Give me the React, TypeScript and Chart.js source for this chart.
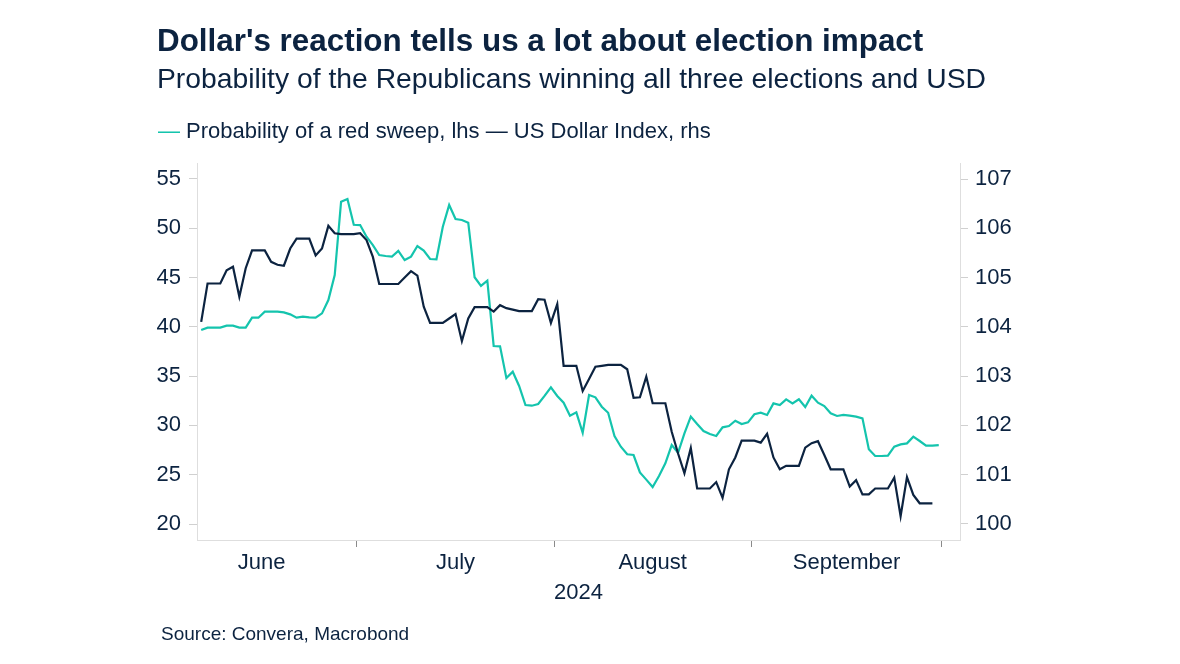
import React, { useEffect, useRef } from "react";
import { Chart, registerables } from "chart.js";

Chart.register(...registerables);

// Day index: 0 = 1 June 2024. Daily observations start on 6 June 2024.
const FIRST_DAY = 5;

// Probability of a red sweep (%), lhs — 6 Jun .. 30 Sep 2024
const redSweep = [
  39.68, 39.92, 39.92, 39.92, 40.12, 40.12, 39.92, 39.92, 40.93, 40.93,
  41.54, 41.54, 41.54, 41.47, 41.27, 40.93, 41.03, 40.97, 40.93, 41.37,
  42.72, 45.26, 52.7, 52.97, 50.36, 50.33, 49.15, 48.3, 47.29, 47.19,
  47.12, 47.7, 46.78, 47.12, 48.2, 47.73, 46.88, 46.85, 50.16, 52.36,
  50.94, 50.84, 50.57, 45.03, 44.15, 44.68, 38.06, 38.02, 34.8, 35.45,
  34.0, 32.07, 32.0, 32.17, 32.99, 33.87, 32.99, 32.31, 30.99, 31.33,
  29.26, 33.09, 32.85, 31.9, 31.29, 28.93, 27.84, 27.07, 27.0, 25.24,
  24.5, 23.75, 24.87, 26.16, 28.01, 27.23, 29.2, 30.89, 30.14, 29.43,
  29.13, 28.93, 29.81, 29.94, 30.48, 30.14, 30.31, 31.13, 31.29, 31.06,
  32.24, 32.07, 32.65, 32.24, 32.65, 31.87, 33.02, 32.31, 31.97, 31.23,
  30.96, 31.06, 30.99, 30.89, 30.72, 27.58, 26.9, 26.9, 26.93, 27.84,
  28.08, 28.18, 28.86, 28.42, 27.95, 27.95, 28.01,
];

// US Dollar Index, rhs — 6 Jun .. 29 Sep 2024
const dollarIndex = [
  104.1, 104.88, 104.88, 104.88, 105.15, 105.22, 104.61, 105.19, 105.55, 105.55,
  105.55, 105.32, 105.26, 105.24, 105.59, 105.79, 105.79, 105.79, 105.45, 105.59,
  106.05, 105.9, 105.88, 105.88, 105.88, 105.9, 105.76, 105.42, 104.87, 104.87,
  104.87, 104.87, 105.0, 105.13, 105.04, 104.41, 104.08, 104.08, 104.08, 104.17,
  104.26, 103.71, 104.17, 104.4, 104.4, 104.4, 104.31, 104.44, 104.38, 104.35,
  104.32, 104.32, 104.32, 104.56, 104.55, 104.08, 104.46, 103.21, 103.21, 103.21,
  102.7, 102.94, 103.19, 103.21, 103.23, 103.23, 103.23, 103.14, 102.56, 102.57,
  102.99, 102.45, 102.45, 102.45, 101.87, 101.43, 101.03, 101.54, 100.72, 100.72,
  100.72, 100.85, 100.53, 101.11, 101.35, 101.69, 101.69, 101.69, 101.65, 101.83,
  101.35, 101.11, 101.18, 101.18, 101.18, 101.55, 101.64, 101.68, 101.4, 101.11,
  101.11, 101.11, 100.76, 100.89, 100.6, 100.6, 100.72, 100.72, 100.72, 100.94,
  100.16, 100.95, 100.59, 100.42, 100.42, 100.42,
];

const monthNames = ["June", "July", "August", "September"];
const monthMidDays = [15, 45.5, 76.5, 107];
const monthStartDays = [30, 61, 92, 122];
const leftTicks = [20, 25, 30, 35, 40, 45, 50, 55];
const rightTicks = [100, 101, 102, 103, 104, 105, 106, 107];

const TEAL = "#14c4ad";
const NAVY = "#0c2340";
const FONT = "'Liberation Sans', Arial, Helvetica, sans-serif";

export default function App() {
  const canvasRef = useRef<HTMLCanvasElement | null>(null);

  useEffect(() => {
    if (!canvasRef.current) return;
    const toPoints = (vals: number[]) =>
      vals.map((v, i) => ({ x: FIRST_DAY + i + 0.5, y: v }));

    const chart = new Chart(canvasRef.current, {
      type: "line",
      data: {
        datasets: [
          {
            label: "US Dollar Index, rhs",
            data: toPoints(dollarIndex),
            yAxisID: "y1",
            borderColor: NAVY,
            borderWidth: 2.2,
            pointRadius: 0,
            tension: 0,
          },
          {
            label: "Probability of a red sweep, lhs",
            data: toPoints(redSweep),
            yAxisID: "y",
            borderColor: TEAL,
            borderWidth: 2.2,
            pointRadius: 0,
            tension: 0,
          },
        ],
      },
      options: {
        animation: false,
        responsive: false,
        devicePixelRatio: 1,
        layout: { padding: { top: 163, left: 0, right: 0, bottom: 0 } },
        plugins: {
          legend: { display: false },
          tooltip: { enabled: false },
        },
        scales: {
          x: {
            type: "linear",
            min: 4.84,
            max: 124.84,
            afterFit: (s: any) => {
              s.height = 124;
            },
            afterBuildTicks: (s: any) => {
              const vals = [...monthMidDays, ...monthStartDays].sort((a, b) => a - b);
              s.ticks = vals.map((v) => ({ value: v }));
            },
            ticks: {
              autoSkip: false,
              maxRotation: 0,
              minRotation: 0,
              padding: 3,
              color: NAVY,
              font: { family: FONT, size: 22 },
              callback: (v: any) => {
                const i = monthMidDays.indexOf(Number(v));
                return i >= 0 ? monthNames[i] : "";
              },
            },
            grid: {
              drawOnChartArea: false,
              drawTicks: true,
              tickLength: 7,
              tickColor: (ctx: any) =>
                ctx.tick && monthStartDays.includes(ctx.tick.value)
                  ? "#8a8a8a"
                  : "rgba(0,0,0,0)",
            },
            border: { display: true, color: "#dedede" },
            title: {
              display: true,
              text: "2024",
              color: NAVY,
              font: { family: FONT, size: 22 },
              padding: { top: 0, bottom: 58 },
            },
          },
          y: {
            position: "left",
            min: 18.377,
            max: 56.623,
            afterFit: (s: any) => {
              s.width = 197;
            },
            afterBuildTicks: (s: any) => {
              s.ticks = leftTicks.map((v) => ({ value: v }));
            },
            ticks: {
              padding: 8,
              color: NAVY,
              font: { family: FONT, size: 22 },
            },
            grid: {
              drawOnChartArea: false,
              tickLength: 8,
              tickColor: "#d0d0d0",
            },
            border: { display: true, color: "#dedede" },
          },
          y1: {
            position: "right",
            min: 99.675,
            max: 107.325,
            afterFit: (s: any) => {
              s.width = 220;
            },
            afterBuildTicks: (s: any) => {
              s.ticks = rightTicks.map((v) => ({ value: v }));
            },
            ticks: {
              padding: 7,
              color: NAVY,
              font: { family: FONT, size: 22 },
            },
            grid: {
              drawOnChartArea: false,
              tickLength: 8,
              tickColor: "#d0d0d0",
            },
            border: { display: true, color: "#dedede" },
          },
        },
      },
    } as any);

    return () => chart.destroy();
  }, []);

  const textBase: React.CSSProperties = {
    position: "absolute",
    fontFamily: FONT,
    color: NAVY,
    lineHeight: 1,
    whiteSpace: "nowrap",
  };

  return (
    <div
      style={{
        position: "fixed",
        left: 0,
        top: 0,
        width: 1180,
        height: 664,
        background: "#ffffff",
        overflow: "hidden",
      }}
    >
      <canvas
        ref={canvasRef}
        width={1180}
        height={664}
        style={{ position: "absolute", left: 0, top: 0, width: 1180, height: 664 }}
      />
      <div style={{ ...textBase, left: 157, top: 25, fontSize: 31.4, fontWeight: 700 }}>
        Dollar's reaction tells us a lot about election impact
      </div>
      <div style={{ ...textBase, left: 157, top: 64, fontSize: 28.3 }}>
        Probability of the Republicans winning all three elections and USD
      </div>
      <div style={{ ...textBase, left: 158, top: 120, fontSize: 22 }}>
        <span style={{ color: TEAL }}>—</span> Probability of a red sweep, lhs{" "}
        <span style={{ color: NAVY }}>—</span> US Dollar Index, rhs
      </div>
      <div style={{ ...textBase, left: 161, top: 624, fontSize: 19 }}>
        Source: Convera, Macrobond
      </div>
    </div>
  );
}
